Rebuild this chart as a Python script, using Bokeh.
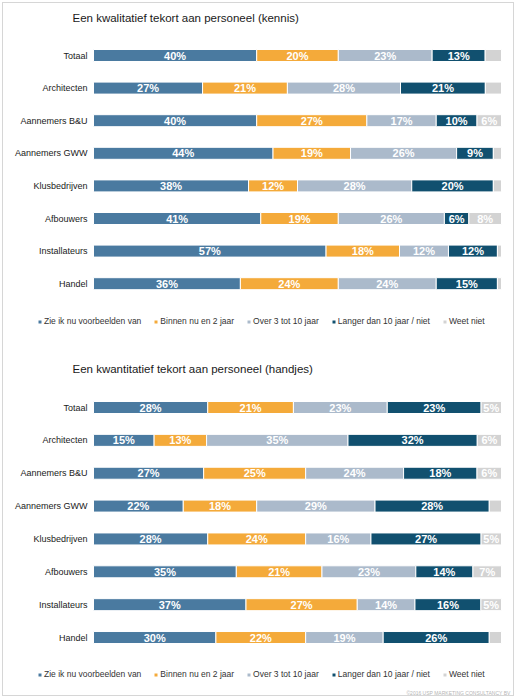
from bokeh.plotting import figure
from bokeh.layouts import column
from bokeh.models import ColumnDataSource, Legend, LegendItem, Label, Range1d
from bokeh.core.properties import value
from bokeh.embed import file_html
from bokeh.resources import INLINE

categories = ["Totaal", "Architecten", "Aannemers B&U", "Aannemers GWW",
              "Klusbedrijven", "Afbouwers", "Installateurs", "Handel"]
series = ["Zie ik nu voorbeelden van", "Binnen nu en 2 jaar", "Over 3 tot 10 jaar",
          "Langer dan 10 jaar / niet", "Weet niet"]
colors = ["#4a7aa0", "#f4aa3a", "#abbacb", "#11506f", "#d3d3d3"]

title_kennis = "Een kwalitatief tekort aan personeel (kennis)"
kennis_zie = [40, 27, 40, 44, 38, 41, 57, 36]
kennis_binnen = [20, 21, 27, 19, 12, 19, 18, 24]
kennis_over = [23, 28, 17, 26, 28, 26, 12, 24]
kennis_langer = [13, 21, 10, 9, 20, 6, 12, 15]
kennis_weet = [4, 4, 6, 2, 2, 8, 1, 1]

title_handjes = "Een kwantitatief tekort aan personeel (handjes)"
handjes_zie = [28, 15, 27, 22, 28, 35, 37, 30]
handjes_binnen = [21, 13, 25, 18, 24, 21, 27, 22]
handjes_over = [23, 35, 24, 29, 16, 23, 14, 19]
handjes_langer = [23, 32, 18, 28, 27, 14, 16, 26]
handjes_weet = [5, 6, 6, 3, 5, 7, 5, 3]

footer = "\u00a92016 USP MARKETING CONSULTANCY BV"

FONT = "Liberation Sans"
keys = ["s0", "s1", "s2", "s3", "s4"]
W = 510          # figure width in px
LEFT_PX = 90     # space left of the bars
BAR_PX = 408     # width of a 100% bar
TOP_PX = 52      # distance from figure top to the first row centre


def make_chart(title, rows, height, row_px, title_from_top, legend_bottom, footer_text=None):
    n = len(categories)
    pos = list(range(n))
    data = {"pos": pos}
    totals = [sum(r[i] for r in rows) for i in range(n)]
    for k, r in zip(keys, rows):
        data[k] = [v / t * 100 for v, t in zip(r, totals)]
    src = ColumnDataSource(data)

    unit = 100 / BAR_PX
    p = figure(width=W, height=height, output_backend="svg", toolbar_location=None,
               x_range=Range1d(-LEFT_PX * unit, (W - LEFT_PX) * unit),
               y_range=Range1d((height - TOP_PX) / row_px, -TOP_PX / row_px),
               x_axis_location=None, y_axis_location=None,
               min_border=0, min_border_left=0, min_border_right=0,
               min_border_top=0, min_border_bottom=0)
    p.outline_line_color = None
    p.grid.visible = False

    rends = p.hbar_stack(keys, y="pos", height=12 / row_px, color=colors, source=src,
                         line_color="white", line_width=1)

    # category labels
    csrc = ColumnDataSource(dict(x=[0] * n, y=pos, t=categories))
    p.text(x="x", y="y", text="t", source=csrc, x_offset=-6, text_align="right",
           text_baseline="middle", text_font=value(FONT), text_font_size="9px",
           text_color="#1a1a1a")

    # value labels
    lx, ly, lt = [], [], []
    for i in range(n):
        left = 0.0
        for k, r in zip(keys, rows):
            w = data[k][i]
            if r[i] >= 5:
                lx.append(left + w / 2)
                ly.append(i)
                lt.append(f"{r[i]}%")
            left += w
    lsrc = ColumnDataSource(dict(x=lx, y=ly, t=lt))
    p.text(x="x", y="y", text="t", source=lsrc, text_align="center", text_baseline="middle",
           text_font=value(FONT), text_font_size="11px", text_font_style="bold",
           text_color="white")

    p.add_layout(Label(x=69, y=height - title_from_top, x_units="screen", y_units="screen",
                       text=title, text_align="left", text_baseline="middle", text_font=FONT,
                       text_font_size="11.5px", text_color="#1a1a1a"))

    legend = Legend(items=[LegendItem(label=s, renderers=[r]) for s, r in zip(series, rends)],
                    location=(34, legend_bottom), orientation="horizontal",
                    glyph_width=5, glyph_height=5, label_standoff=2, spacing=12,
                    padding=0, margin=0, border_line_color=None,
                    background_fill_alpha=0, label_text_font=FONT,
                    label_text_font_size="8.5px", label_text_color="#333333",
                    label_height=10)
    p.add_layout(legend, "center")

    if footer_text:
        p.add_layout(Label(x=507, y=3, x_units="screen", y_units="screen", text=footer_text,
                           text_align="right", text_baseline="middle", text_font=FONT,
                           text_font_size="5px", text_color="#b5b5b5"))
    return p


p1 = make_chart(title_kennis,
                [kennis_zie, kennis_binnen, kennis_over, kennis_langer, kennis_weet],
                height=352, row_px=32.6, title_from_top=14, legend_bottom=29)
p2 = make_chart(title_handjes,
                [handjes_zie, handjes_binnen, handjes_over, handjes_langer, handjes_weet],
                height=340, row_px=32.86, title_from_top=13, legend_bottom=16,
                footer_text=footer)

layout = column(p1, p2, spacing=0,
                styles={"border": "1px solid #d6d6d6", "margin-left": "2px",
                        "margin-top": "2px"})

open("out.html", "w").write(file_html(layout, INLINE))
